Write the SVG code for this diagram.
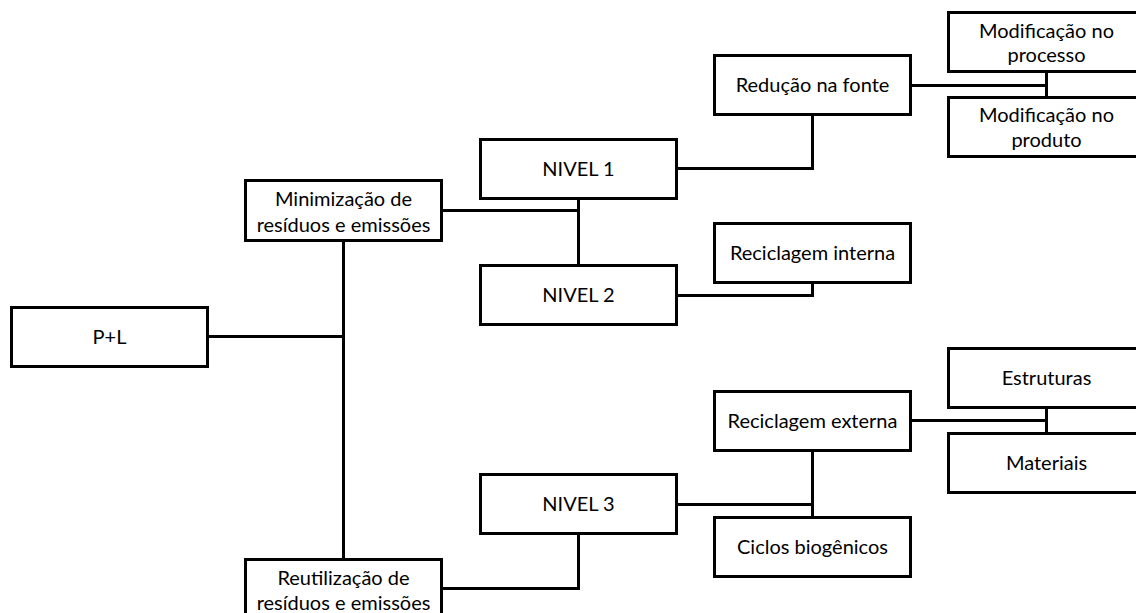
<svg xmlns="http://www.w3.org/2000/svg" width="1136" height="613" viewBox="0 0 1136 613">
<style>
.box{fill:#fff;stroke:#000;stroke-width:3}
.c{fill:none;stroke:#000;stroke-width:3}
text{font-family:Lato,"Open Sans","Liberation Sans",sans-serif;font-size:20px;fill:#000;text-anchor:middle}
</style>
<rect width="1136" height="613" fill="#fff"/>
<g id="connectors">
<path class="c" d="M207.5,336.5 H343.5"/>
<path class="c" d="M343.5,241 V559"/>
<path class="c" d="M442,210.5 H578.5"/>
<path class="c" d="M578.5,198 V265"/>
<path class="c" d="M676,168.5 H812.5 V115"/>
<path class="c" d="M676,295.5 H812.5 V282"/>
<path class="c" d="M910,85.5 H1046.5"/>
<path class="c" d="M1046.5,72 V97"/>
<path class="c" d="M676,504.5 H812.5"/>
<path class="c" d="M812.5,451 V517"/>
<path class="c" d="M910,420.5 H1046.5"/>
<path class="c" d="M1046.5,408 V433"/>
<path class="c" d="M578.5,534 V588.5 H441"/>
</g>
<g id="pl"><rect class="box" x="11.5" y="307.5" width="196" height="59"/><text x="109.5" y="344">P+L</text></g>
<g id="minimizacao"><rect class="box" x="245.5" y="180.5" width="196" height="60"/><text x="343.5" y="206">Minimização de</text><text x="343.5" y="232">resíduos e emissões</text></g>
<g id="reutilizacao"><rect class="box" x="245.5" y="559.5" width="196" height="70"/><text x="343.5" y="584.5">Reutilização de</text><text x="343.5" y="609.5">resíduos e emissões</text></g>
<g id="nivel1"><rect class="box" x="480.5" y="139.5" width="196" height="59"/><text x="578.5" y="176">NIVEL 1</text></g>
<g id="nivel2"><rect class="box" x="480.5" y="265.5" width="196" height="59"/><text x="578.5" y="302">NIVEL 2</text></g>
<g id="nivel3"><rect class="box" x="480.5" y="474.5" width="196" height="59"/><text x="578.5" y="511">NIVEL 3</text></g>
<g id="reducao"><rect class="box" x="714.5" y="55.5" width="196" height="59"/><text x="812.5" y="92">Redução na fonte</text></g>
<g id="reciclagem-interna"><rect class="box" x="714.5" y="223.5" width="196" height="59"/><text x="812.5" y="260">Reciclagem interna</text></g>
<g id="reciclagem-externa"><rect class="box" x="714.5" y="391.5" width="196" height="59"/><text x="812.5" y="428">Reciclagem externa</text></g>
<g id="ciclos"><rect class="box" x="714.5" y="517.5" width="196" height="59"/><text x="812.5" y="554">Ciclos biogênicos</text></g>
<g id="mod-processo"><rect class="box" x="948.5" y="12.5" width="196" height="59"/><text x="1046.5" y="37.5">Modificação no</text><text x="1046.5" y="62">processo</text></g>
<g id="mod-produto"><rect class="box" x="948.5" y="97.5" width="196" height="59"/><text x="1046.5" y="122">Modificação no</text><text x="1046.5" y="146.5">produto</text></g>
<g id="estruturas"><rect class="box" x="948.5" y="348.5" width="196" height="59"/><text x="1046.5" y="385">Estruturas</text></g>
<g id="materiais"><rect class="box" x="948.5" y="433.5" width="196" height="59"/><text x="1046.5" y="470">Materiais</text></g>
</svg>
